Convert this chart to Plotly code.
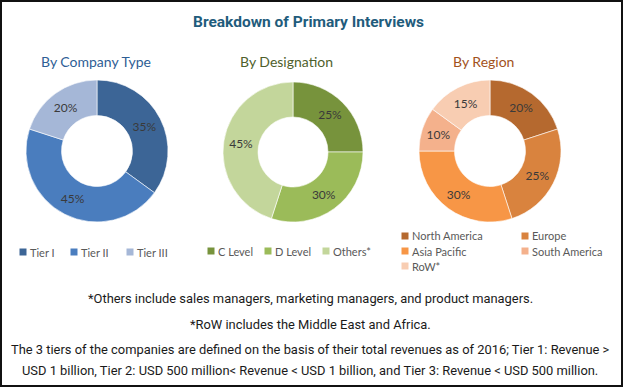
import plotly.graph_objects as go

W, H = 624, 388

# ---- data ----
company_labels = ["Tier I", "Tier II", "Tier III"]
company_values = [35, 45, 20]
company_colors = ["#3C6596", "#4A7DBE", "#A5B7D7"]

designation_labels = ["C Level", "D Level", "Others*"]
designation_values = [25, 30, 45]
designation_colors = ["#77933C", "#9BBB59", "#C3D69B"]

region_labels = ["North America", "Europe", "Asia Pacific", "South America", "RoW*"]
region_values = [20, 25, 30, 10, 15]
region_colors = ["#B5692F", "#D9833E", "#F79646", "#F4B18C", "#F8CDB2"]

title_text = "Breakdown of Primary Interviews"
subtitles = ["By Company Type", "By Designation", "By Region"]
subtitle_colors = ["#2E5E95", "#4F5F2C", "#A2521B"]
footnotes = [
    "*Others include sales managers, marketing managers, and product managers.",
    "*RoW includes the Middle East and Africa.",
    "The 3 tiers of the companies are defined on the basis of their total revenues as of 2016; Tier 1: Revenue >",
    "USD 1 billion, Tier 2: USD 500 million< Revenue < USD 1 billion, and Tier 3: Revenue < USD 500 million.",
]

# ---- helpers (pixel -> paper) ----
def px(x):
    return x / W

def py(y):
    return 1 - y / H

def dom(cx, cy, r):
    return dict(x=[px(cx - r), px(cx + r)], y=[py(cy + r), py(cy - r)])

CAL = "Lato, Open Sans, sans-serif"
NARROW = "Liberation Sans Narrow, Arial Narrow, Roboto, sans-serif"
LBL_FONT = dict(family=CAL, size=12, color="#3A3A3A")

fig = go.Figure()

pies = [
    (company_labels, company_values, company_colors, (97, 151, 71)),
    (designation_labels, designation_values, designation_colors, (293, 152, 70)),
    (region_labels, region_values, region_colors, (490, 151, 71)),
]
for labels, values, colors, (cx, cy, r) in pies:
    fig.add_trace(go.Pie(
        labels=labels, values=values, sort=False, direction="clockwise", rotation=0,
        hole=0.5, domain=dom(cx, cy, r),
        marker=dict(colors=colors, line=dict(color="white", width=0.6)),
        texttemplate="%{value}%", textposition="inside", insidetextorientation="horizontal",
        textfont=LBL_FONT, showlegend=False, hoverinfo="label+percent",
    ))

annotations = [
    dict(text="<b>" + title_text + "</b>", x=px(308), y=py(22), xref="paper", yref="paper",
         xanchor="center", yanchor="middle", showarrow=False,
         font=dict(family=NARROW, size=15.5, color="#1F5C7C")),
]
for t, c, cx in zip(subtitles, subtitle_colors, [96, 286, 483]):
    annotations.append(dict(text=t, x=px(cx), y=py(62), xref="paper", yref="paper",
                            xanchor="center", yanchor="middle", showarrow=False,
                            font=dict(family=CAL, size=14, color=c)))
for t, yy in zip(footnotes, [298, 324, 349, 370]):
    annotations.append(dict(text=t, x=px(310), y=py(yy), xref="paper", yref="paper",
                            xanchor="center", yanchor="middle", showarrow=False,
                            font=dict(family="Roboto, sans-serif", size=12.9, color="#1A1A1A")))

# ---- legend keys (square swatch + label) ----
legend_items = [
    (company_labels, company_colors, [(23, 252), (74, 252), (130, 252)]),
    (designation_labels, designation_colors, [(211, 251), (268, 251), (326, 251)]),
    (region_labels, region_colors, [(405, 236), (525, 236), (405, 251), (525, 251), (405, 266)]),
]
shapes = []
for labels, colors, positions in legend_items:
    for lab, col, (sx, sy) in zip(labels, colors, positions):
        shapes.append(dict(type="rect", xref="paper", yref="paper",
                           x0=px(sx - 3.5), x1=px(sx + 3.5), y0=py(sy + 3.5), y1=py(sy - 3.5),
                           fillcolor=col, line=dict(width=0)))
        annotations.append(dict(text=lab, x=px(sx + 5), y=py(sy), xref="paper", yref="paper",
                                xanchor="left", yanchor="middle", showarrow=False,
                                font=dict(family=CAL, size=11, color="#595959")))

shapes.append(dict(type="rect", xref="paper", yref="paper", x0=px(1), y0=py(386), x1=px(622), y1=py(1),
                   line=dict(color="#111111", width=2), fillcolor="rgba(0,0,0,0)"))

fig.update_layout(
    width=W, height=H, margin=dict(l=0, r=0, t=0, b=0),
    paper_bgcolor="white", plot_bgcolor="white",
    showlegend=False,
    annotations=annotations,
    shapes=shapes,
)

fig.write_html("out.html", config={"displayModeBar": False},
               post_script="document.body.style.margin='0';")
